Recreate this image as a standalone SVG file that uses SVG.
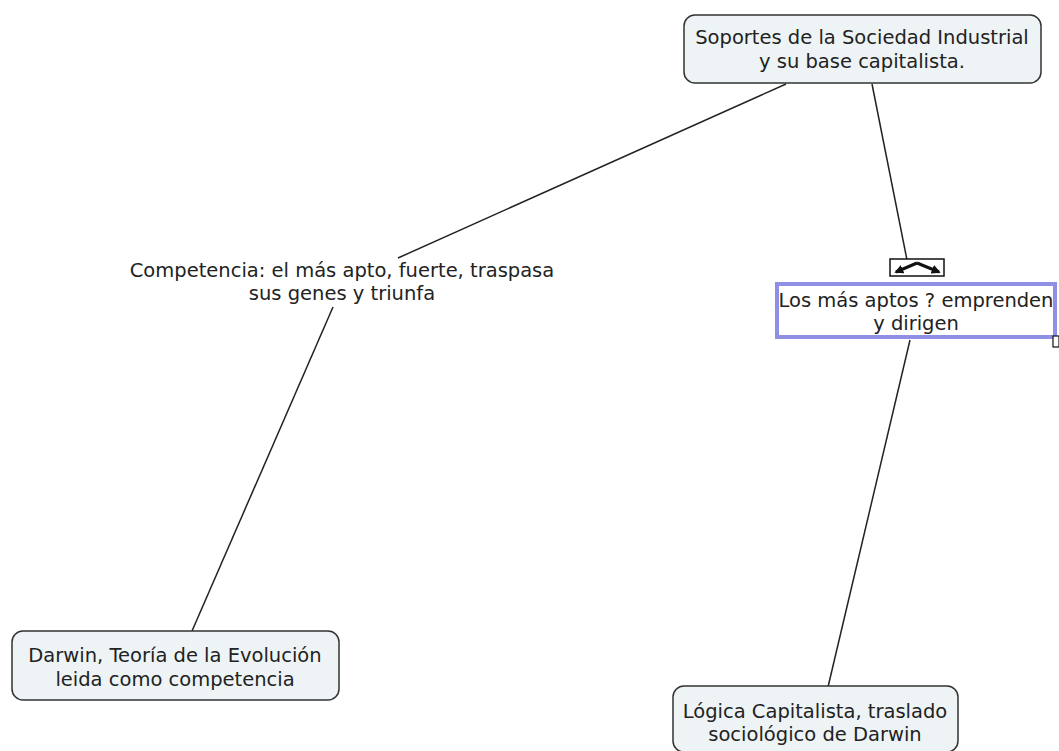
<svg xmlns="http://www.w3.org/2000/svg" width="1059" height="751" viewBox="0 0 1059 751">
<style>
.node{fill:#eef4f6;stroke:#333;stroke-width:1.5}
.t{font-family:"DejaVu Sans",Verdana,sans-serif;font-size:19.5px;fill:#222;text-anchor:middle}
.c{stroke:#222;stroke-width:1.5;fill:none}
.sel{stroke:#111;stroke-width:3;fill:none}
</style>
<defs>
<marker id="ah" viewBox="0 0 10 10" refX="8" refY="5" markerWidth="3" markerHeight="3" orient="auto"><path d="M0,0 L10,5 L0,10 z" fill="#111"/></marker>
</defs>
<rect width="1059" height="751" fill="#fff"/>
<g id="connectors">
<line class="c" x1="786" y1="84" x2="398" y2="258"/>
<line class="c" x1="872" y1="84" x2="907" y2="260"/>
<line class="c" x1="333" y1="307" x2="192" y2="631"/>
<line class="c" x1="910" y1="340" x2="828" y2="687"/>
</g>
<g id="n1">
<rect class="node" x="684" y="15" width="357" height="68" rx="11"/>
<text class="t" x="862" y="44">Soportes de la Sociedad Industrial</text>
<text class="t" x="862" y="68">y su base capitalista.</text>
</g>
<g id="n2">
<text class="t" x="342" y="277">Competencia: el más apto, fuerte, traspasa</text>
<text class="t" x="342" y="300">sus genes y triunfa</text>
</g>
<g id="n3">
<rect x="890" y="259" width="54" height="17" fill="#fff" stroke="#111" stroke-width="1.5"/>
<path d="M917,263 L896,272" class="sel" marker-end="url(#ah)"/>
<path d="M917,263 L939,272" class="sel" marker-end="url(#ah)"/>
<rect x="777" y="284" width="278" height="53" fill="#fff" stroke="#8f8fe6" stroke-width="4"/>
<text class="t" x="916" y="307">Los más aptos ? emprenden</text>
<text class="t" x="916" y="330">y dirigen</text>
<rect x="1053" y="336" width="6" height="11" fill="#fff" stroke="#111" stroke-width="1.2"/>
</g>
<g id="n4">
<rect class="node" x="12" y="631" width="327" height="69" rx="11"/>
<text class="t" x="175" y="662">Darwin, Teoría de la Evolución</text>
<text class="t" x="175" y="686">leida como competencia</text>
</g>
<g id="n5">
<rect class="node" x="673" y="686" width="285" height="66" rx="11"/>
<text class="t" x="815" y="718">Lógica Capitalista, traslado</text>
<text class="t" x="815" y="741">sociológico de Darwin</text>
</g>
</svg>
